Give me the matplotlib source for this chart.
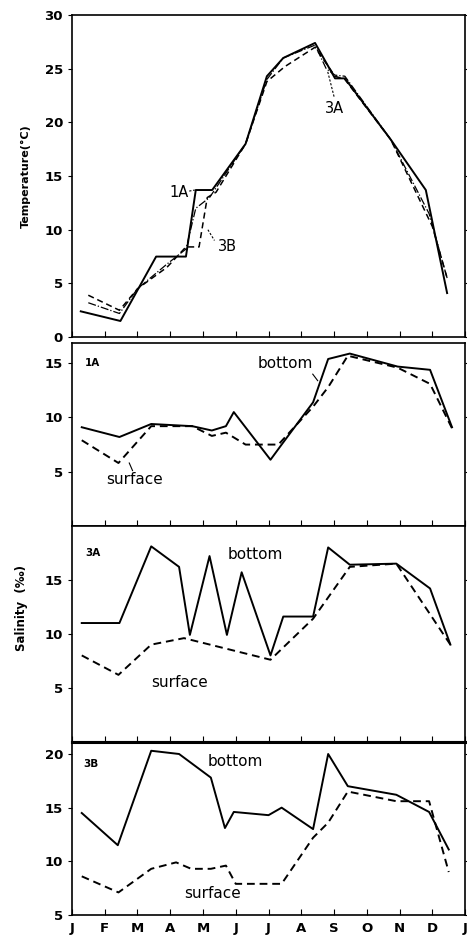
import matplotlib
matplotlib.use("Agg")
import matplotlib.pyplot as plt

plt.rcParams['font.family'] = ['DejaVu Sans']

# Etykiety miesięcy (osie x: 0..12 = granice miesięcy)
months = ["J", "F", "M", "A", "M", "J", "J", "A", "S", "O", "N", "D", "J"]

# Temperatura (°C)
t1a_x = [0.27, 1.48, 2.57, 3.48, 3.78, 4.28, 5.3, 5.95, 6.45, 7.42, 8.03, 8.33, 9.73, 10.8, 11.45]
t1a_y = [2.4, 1.5, 7.5, 7.5, 13.7, 13.7, 18.0, 24.3, 26.0, 27.4, 24.1, 24.1, 18.4, 13.7, 4.1]
t3b_x = [0.5, 1.45, 2.0, 2.9, 3.48, 3.88, 4.13, 4.4, 5.3, 5.95, 6.5, 7.42, 8.03, 8.33, 9.73, 11.0, 11.45]
t3b_y = [3.9, 2.5, 4.5, 6.5, 8.4, 8.4, 13.0, 13.5, 18.0, 23.8, 25.2, 27.0, 24.3, 24.0, 18.4, 10.3, 5.5]
t3a_x = [0.5, 1.45, 2.0, 2.9, 3.48, 3.78, 4.2, 5.3, 5.95, 6.45, 7.42, 7.76, 8.03, 8.33, 9.73, 10.9, 11.45]
t3a_y = [3.2, 2.2, 4.5, 6.8, 8.2, 12.0, 13.0, 18.0, 24.0, 26.0, 27.2, 25.0, 24.4, 24.3, 18.4, 11.5, 5.5]

# Zasolenie 1A
s1a_bot_x = [0.3, 1.45, 2.42, 3.67, 4.27, 4.7, 4.94, 6.06, 6.4, 7.36, 7.82, 8.48, 9.94, 10.93, 11.6]
s1a_bot_y = [9.1, 8.2, 9.4, 9.2, 8.8, 9.2, 10.5, 6.1, 7.5, 11.4, 15.4, 15.9, 14.7, 14.4, 9.1]
s1a_sur_x = [0.3, 1.42, 2.42, 3.67, 4.27, 4.7, 5.3, 6.3, 7.36, 7.82, 8.42, 9.94, 10.93, 11.6]
s1a_sur_y = [7.9, 5.8, 9.2, 9.2, 8.3, 8.6, 7.5, 7.5, 11.0, 12.8, 15.7, 14.6, 13.1, 9.0]

# Zasolenie 3A
s3a_bot_x = [0.3, 1.45, 2.42, 3.27, 3.6, 4.2, 4.73, 5.18, 6.06, 6.45, 7.36, 7.82, 8.48, 9.9, 10.93, 11.55]
s3a_bot_y = [11.0, 11.0, 18.1, 16.2, 9.9, 17.2, 9.9, 15.7, 8.0, 11.6, 11.6, 18.0, 16.4, 16.5, 14.2, 9.0]
s3a_sur_x = [0.3, 1.42, 2.42, 3.42, 6.06, 7.36, 8.48, 9.9, 11.35, 11.55]
s3a_sur_y = [8.0, 6.2, 9.0, 9.6, 7.6, 11.4, 16.2, 16.5, 9.9, 9.0]

# Zasolenie 3B
s3b_bot_x = [0.3, 1.4, 2.42, 3.27, 4.24, 4.67, 4.94, 6.0, 6.4, 7.36, 7.82, 8.42, 9.9, 10.9, 11.5]
s3b_bot_y = [14.5, 11.5, 20.3, 20.0, 17.8, 13.1, 14.6, 14.3, 15.0, 13.0, 20.0, 17.0, 16.2, 14.6, 11.1]
s3b_sur_x = [0.3, 1.42, 2.42, 3.18, 3.64, 4.24, 4.7, 5.0, 6.4, 7.36, 7.82, 8.42, 9.9, 10.9, 11.5]
s3b_sur_y = [8.6, 7.1, 9.3, 9.9, 9.3, 9.3, 9.6, 7.9, 7.9, 12.2, 13.6, 16.5, 15.6, 15.6, 9.0]

fig = plt.figure(figsize=(4.67, 9.39), dpi=100)
L, W = 0.154, 0.842
axT = fig.add_axes([L, 0.641, W, 0.343])
axA = fig.add_axes([L, 0.440, W, 0.195])
axB = fig.add_axes([L, 0.210, W, 0.230])
axC = fig.add_axes([L, 0.0256, W, 0.184])

lw = 1.4
dash = (0, (4, 2.5))

def style(ax, ylim, yticks):
    ax.set_xlim(0, 12)
    ax.set_ylim(*ylim)
    ax.set_xticks(range(13))
    ax.set_xticklabels([])
    ax.set_yticks(yticks)
    ax.tick_params(axis='x', direction='in', length=4, top=False)
    ax.tick_params(axis='y', direction='out', length=3, right=True, labelsize=9.5)
    for lab in ax.get_yticklabels():
        lab.set_fontweight('bold')
    for s in ax.spines.values():
        s.set_linewidth(1.2)

# Temperatura
axT.plot(t1a_x, t1a_y, color='black', lw=lw)
axT.plot(t3b_x, t3b_y, color='black', lw=1.1, linestyle=dash)
axT.plot(t3a_x, t3a_y, color='black', lw=0.9, linestyle='-.')
style(axT, (0, 30), [0, 5, 10, 15, 20, 25, 30])
axT.set_ylabel("Temperature(°C)", fontsize=8, fontweight='bold', labelpad=10)
axT.text(3.55, 13.5, "1A", fontsize=10.5, ha='right', va='center')
axT.plot([3.58, 3.75], [13.6, 13.7], color='black', lw=0.8, linestyle=(0, (2, 1.5)))
axT.text(4.45, 8.4, "3B", fontsize=10.5, ha='left', va='center')
axT.plot([4.15, 4.35], [10.0, 9.0], color='black', lw=0.8, linestyle=(0, (2, 1.5)))
axT.text(8.0, 20.6, "3A", fontsize=10.5, ha='center', va='bottom')
axT.plot([8.0, 7.8], [22.4, 24.8], color='black', lw=0.8, linestyle=(0, (2, 1.5)))

# 1A
axA.plot(s1a_bot_x, s1a_bot_y, color='black', lw=lw)
axA.plot(s1a_sur_x, s1a_sur_y, color='black', lw=lw, linestyle=dash)
style(axA, (0, 16.9), [5, 10, 15])
axA.text(0.4, 15.0, "1A", fontsize=7.5, fontweight='bold', va='center')
axA.text(6.5, 15.0, "bottom", fontsize=11, ha='center', va='center')
axA.plot([7.35, 7.5], [14.0, 13.4], color='black', lw=0.8)
axA.text(1.9, 4.3, "surface", fontsize=11, ha='center', va='center')
axA.plot([1.85, 1.75], [5.1, 5.8], color='black', lw=0.8)

# 3A
axB.plot(s3a_bot_x, s3a_bot_y, color='black', lw=lw)
axB.plot(s3a_sur_x, s3a_sur_y, color='black', lw=lw, linestyle=dash)
style(axB, (0, 20), [5, 10, 15])
axB.text(0.4, 17.5, "3A", fontsize=7.5, fontweight='bold', va='center')
axB.text(5.6, 17.3, "bottom", fontsize=11, ha='center', va='center')
axB.text(3.3, 5.5, "surface", fontsize=11, ha='center', va='center')
axB.spines['bottom'].set_linewidth(2.2)

# 3B
axC.plot(s3b_bot_x, s3b_bot_y, color='black', lw=lw)
axC.plot(s3b_sur_x, s3b_sur_y, color='black', lw=lw, linestyle=dash)
style(axC, (5, 21.1), [5, 10, 15, 20])
axC.set_xticklabels(months, fontsize=9.5, fontweight='bold')
axC.tick_params(axis='x', pad=5)
axC.text(0.35, 19.1, "3B", fontsize=7.5, fontweight='bold', va='center')
axC.text(5.0, 19.3, "bottom", fontsize=11, ha='center', va='center')
axC.text(4.3, 7.0, "surface", fontsize=11, ha='center', va='center')
axC.spines['top'].set_linewidth(2.2)

fig.text(0.047, 0.353, "Salinity  (‰)", rotation=90, fontsize=8.5, fontweight='bold',
         ha='center', va='center')

fig.savefig("out.png", dpi=100)
